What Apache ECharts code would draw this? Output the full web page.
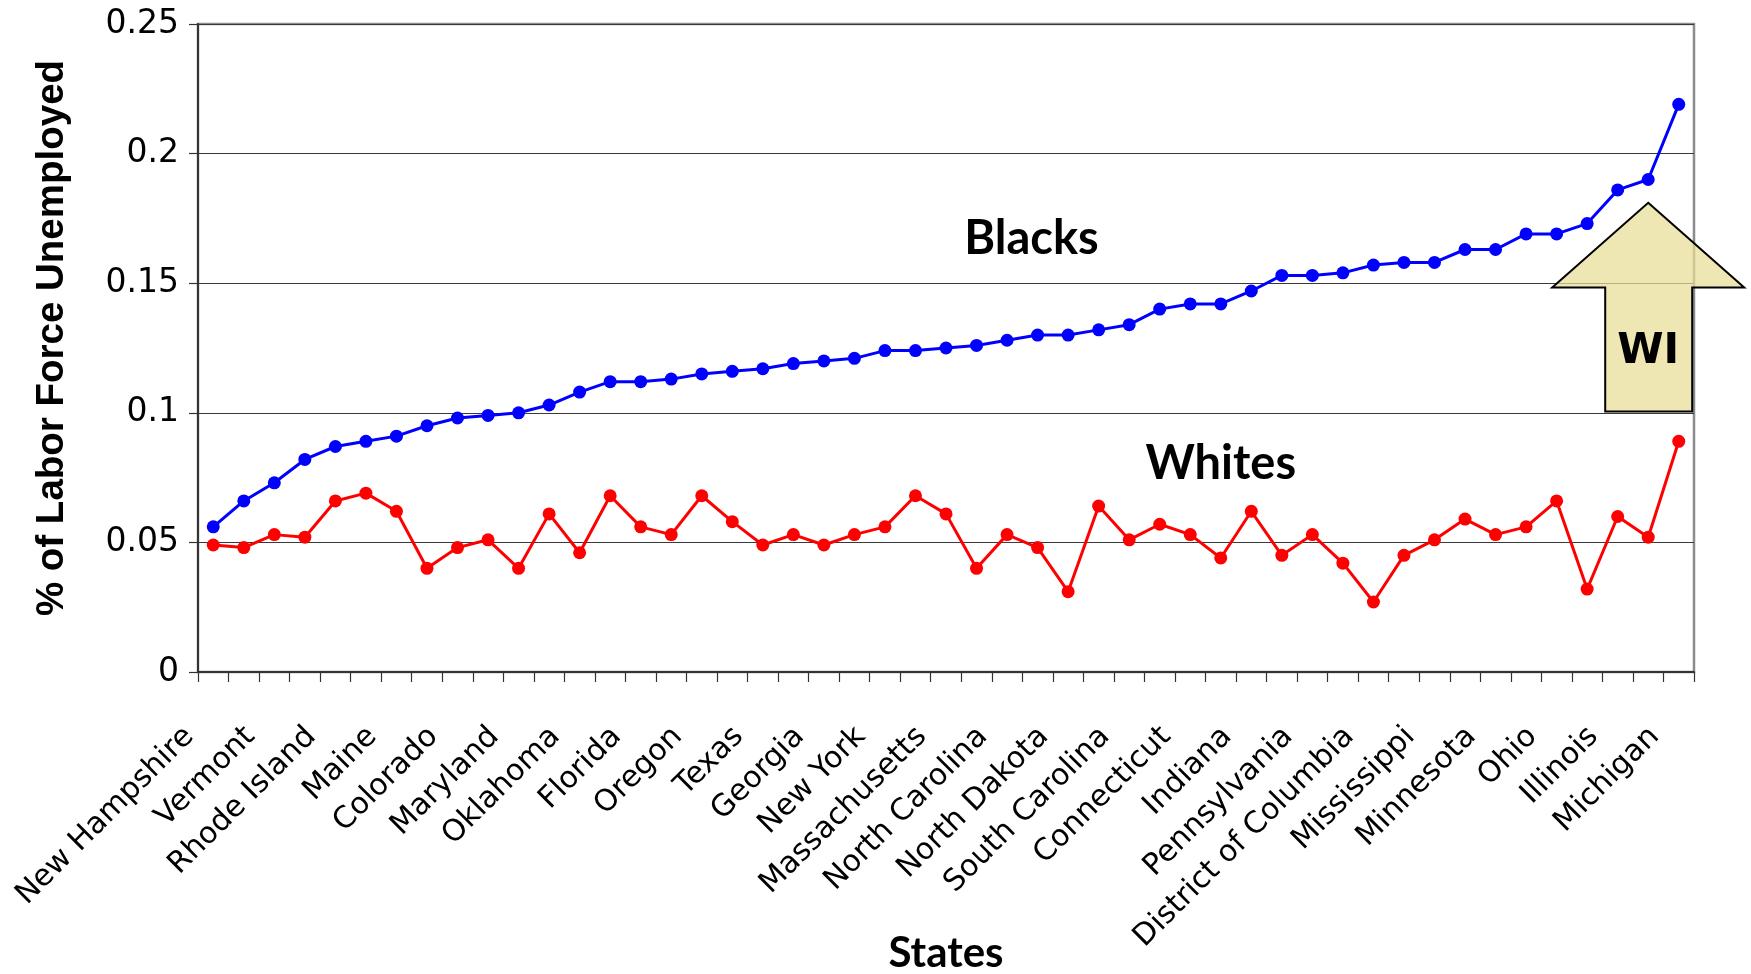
<!DOCTYPE html>
<html>
<head>
<meta charset="utf-8">
<script src="https://cdn.jsdelivr.net/npm/echarts@6/dist/echarts.min.js"></script>
<style>
html,body{margin:0;padding:0;background:#fff;}
#chart{width:1751px;height:974px;}
</style>
</head>
<body>
<div id="chart"></div>
<script>
const states = [
  "New Hampshire","Hawaii","Vermont","Utah","Rhode Island","Wyoming","Maine","Virginia",
  "Colorado","Idaho","Maryland","Montana","Oklahoma","Delaware","Florida","Kansas",
  "Oregon","New Mexico","Texas","Alaska","Georgia","Alabama","New York","Kentucky",
  "Massachusetts","Louisiana","North Carolina","Arkansas","North Dakota","Tennessee",
  "South Carolina","West Virginia","Connecticut","New Jersey","Indiana","Arizona",
  "Pennsylvania","California","District of Columbia","Washington","Mississippi","Missouri",
  "Minnesota","Iowa","Ohio","Nebraska","Illinois","Wisconsin","Michigan"
];
const blacks = [
  0.056,0.066,0.073,0.082,0.087,0.089,0.091,0.095,0.098,0.099,
  0.100,0.103,0.108,0.112,0.112,0.113,0.115,0.116,0.117,0.119,
  0.120,0.121,0.124,0.124,0.125,0.126,0.128,0.130,0.130,0.132,
  0.134,0.140,0.142,0.142,0.147,0.153,0.153,0.154,0.157,0.158,
  0.158,0.163,0.163,0.169,0.169,0.173,0.186,0.190,0.219
];
const whites = [
  0.049,0.048,0.053,0.052,0.066,0.069,0.062,0.040,0.048,0.051,
  0.040,0.061,0.046,0.068,0.056,0.053,0.068,0.058,0.049,0.053,
  0.049,0.053,0.056,0.068,0.061,0.040,0.053,0.048,0.031,0.064,
  0.051,0.057,0.053,0.044,0.062,0.045,0.053,0.042,0.027,0.045,
  0.051,0.059,0.053,0.056,0.066,0.032,0.060,0.052,0.089
];
const yTicks = [0, 0.05, 0.1, 0.15, 0.2, 0.25];
const highlightIndex = 47; // Wisconsin
const highlightLabel = "WI";

const chart = echarts.init(document.getElementById('chart'), null, {renderer:'canvas'});
const option = {
  backgroundColor: '#ffffff',
  animation: false,
  grid: {
    left: 198, right: 57, top: 24, bottom: 302,
    outerBoundsMode: 'none', containLabel: false,
    show: true, borderColor: '#8c8c8c', borderWidth: 2.5, backgroundColor: 'transparent'
  },
  xAxis: {
    type: 'category',
    data: states,
    boundaryGap: true,
    name: 'States',
    nameLocation: 'middle',
    nameGap: 260,
    nameMoveOverlap: false,
    nameTextStyle: {fontFamily: 'Lato', fontWeight: 'bold', fontSize: 42, color: '#000'},
    axisLine: {show: true, lineStyle: {color: '#333', width: 2}},
    axisTick: {show: true, interval: 0, alignWithLabel: false, length: 10, lineStyle: {color: '#333', width: 1.2}},
    axisLabel: {
      interval: 1, rotate: 45, margin: 36, padding: [0, 34, 0, 0],
      fontFamily: 'DejaVu Sans', fontSize: 30, color: '#000', hideOverlap: false
    },
    splitLine: {show: false}
  },
  yAxis: {
    type: 'value',
    min: yTicks[0], max: yTicks[yTicks.length - 1], interval: 0.05,
    name: '% of Labor Force Unemployed',
    nameLocation: 'middle',
    nameGap: 126,
    nameMoveOverlap: false,
    nameTextStyle: {fontFamily: 'Liberation Sans', fontWeight: 'bold', fontSize: 38.5, color: '#000', padding: [0, 0, 0, 20]},
    axisLine: {show: true, lineStyle: {color: '#333', width: 2}},
    axisTick: {show: true, inside: false, length: 9, lineStyle: {color: '#333', width: 1.2}},
    axisLabel: {
      margin: 19, fontFamily: 'DejaVu Sans', fontSize: 33, color: '#000',
      formatter: v => String(Math.round(v * 100) / 100)
    },
    splitLine: {show: true, lineStyle: {color: '#3a3a3a', width: 1}}
  },
  series: [
    {
      name: 'Blacks', type: 'line', data: blacks,
      symbol: 'circle', symbolSize: 13,
      lineStyle: {color: '#0000ff', width: 3},
      itemStyle: {color: '#0000ff'},
      z: 3
    },
    {
      name: 'Whites', type: 'line', data: whites,
      symbol: 'circle', symbolSize: 13,
      lineStyle: {color: '#ff0000', width: 3},
      itemStyle: {color: '#ff0000'},
      z: 3
    }
  ]
};
chart.setOption(option);

function px(cat, val) {
  return chart.convertToPixel({xAxisIndex: 0, yAxisIndex: 0}, [cat, val]);
}
const band = px(1, 0)[0] - px(0, 0)[0];
const tip = px(highlightIndex, 0.181);
const headY = px(highlightIndex, 0.1483)[1];
const shaftBottom = px(highlightIndex, 0.1005)[1];
const cx = tip[0];
const arrowPts = [
  [cx, tip[1]],
  [cx + 96, headY],
  [cx + 44, headY],
  [cx + 44, shaftBottom],
  [cx - 43, shaftBottom],
  [cx - 43, headY],
  [cx - 96, headY]
];
const blacksPos = px(26, 0.167); blacksPos[0] += 0.8 * band;
const whitesPos = px(33, 0.0805);
const wiPos = px(highlightIndex, 0.1235);

function label(text, pos, font) {
  return {
    type: 'text', x: pos[0], y: pos[1], z: 20,
    style: {
      text: text, font: font, fill: '#000',
      align: 'center', verticalAlign: 'middle',
      textAlign: 'center', textVerticalAlign: 'middle'
    }
  };
}

chart.setOption({
  graphic: [
    {
      type: 'polygon', z: 15,
      shape: {points: arrowPts},
      style: {fill: 'rgba(232,220,150,0.72)', stroke: '#000', lineWidth: 2}
    },
    label(highlightLabel, wiPos, 'bold 42px "DejaVu Sans"'),
    label('Blacks', blacksPos, 'bold 47px Lato'),
    label('Whites', whitesPos, 'bold 47px Lato')
  ]
});
</script>
</body>
</html>
